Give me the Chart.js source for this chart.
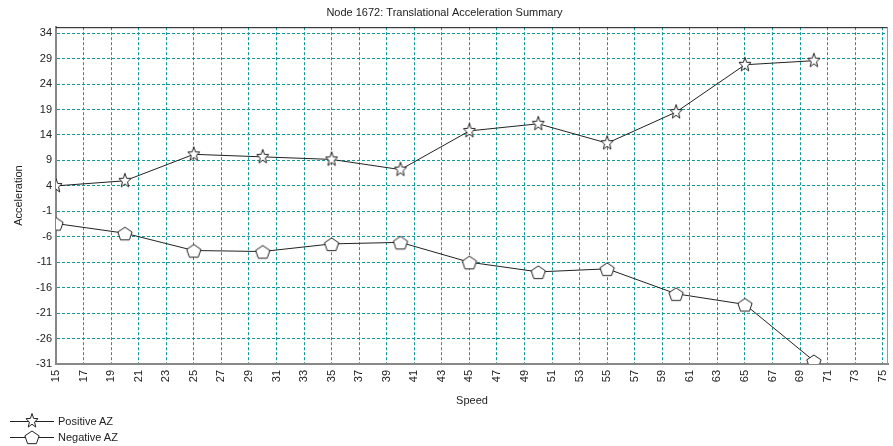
<!DOCTYPE html>
<html>
<head>
<meta charset="utf-8">
<script src="https://cdn.jsdelivr.net/npm/chart.js@4.4.1/dist/chart.umd.min.js"></script>
<style>
  html, body { margin: 0; padding: 0; background: #fff; }
  #wrap { position: relative; width: 893px; height: 446px; }
  #legend { position: absolute; left: 10px; top: 413px; font: 11px "Liberation Sans", Arial, sans-serif; color: #222; }
  .item { display: flex; align-items: center; height: 16px; }
  .item canvas { margin-right: 2px; }
</style>
</head>
<body>
<div id="wrap">
  <canvas id="chart" width="893" height="446"></canvas>
  <div id="legend"></div>
</div>
<script>
// datos
const speeds = [15, 20, 25, 30, 35, 40, 45, 50, 55, 60, 65, 70];
const positiveAZ = [4.0, 5.0, 10.2, 9.7, 9.2, 7.2, 14.8, 16.2, 12.4, 18.5, 27.8, 28.6];
const negativeAZ = [-3.4, -5.3, -8.7, -8.9, -7.4, -7.1, -11.0, -12.9, -12.3, -17.2, -19.3, -30.4];
const xTicks = [15, 17, 19, 21, 23, 25, 27, 29, 31, 33, 35, 37, 39, 41, 43, 45, 47, 49, 51, 53, 55, 57, 59, 61, 63, 65, 67, 69, 71, 73, 75];
const yTicks = [-31, -26, -21, -16, -11, -6, -1, 4, 9, 14, 19, 24, 29, 34];
const seriesNames = ['Positive AZ', 'Negative AZ'];

const FONT = '"Liberation Sans", Arial, sans-serif';
const TEXT = '#222';
const GRID = '#139999';

// marcadores huecos: estrella y pentagono
function drawShape(ctx, cx, cy, kind) {
    ctx.beginPath();
    if (kind === 'star') {
        for (let i = 0; i < 10; i++) {
            const r = i % 2 === 0 ? 7.5 : 3.2;
            const a = -Math.PI / 2 + i * Math.PI / 5;
            const px = cx + r * Math.cos(a) * 0.85, py = cy + r * Math.sin(a);
            i === 0 ? ctx.moveTo(px, py) : ctx.lineTo(px, py);
        }
    } else {
        for (let i = 0; i < 5; i++) {
            const a = -Math.PI / 2 + i * 2 * Math.PI / 5;
            const px = cx + 7.5 * Math.cos(a), py = cy + 1 + 7 * Math.sin(a);
            i === 0 ? ctx.moveTo(px, py) : ctx.lineTo(px, py);
        }
    }
    ctx.closePath();
    ctx.fillStyle = '#fff';
    ctx.fill();
    ctx.strokeStyle = '#222';
    ctx.lineWidth = 1;
    ctx.stroke();
}

function makeMarker(kind) {
    const c = document.createElement('canvas');
    c.width = 18; c.height = 18;
    drawShape(c.getContext('2d'), 9, 9, kind);
    return c;
}

const starImg = makeMarker('star');
const pentImg = makeMarker('pent');

// borde superior y derecho del area de trazado
const frame = {
    id: 'frame',
    afterDraw(chart) {
        const { ctx, chartArea: a } = chart;
        ctx.save();
        ctx.lineWidth = 1;
        ctx.strokeStyle = '#111';
        ctx.beginPath();
        ctx.moveTo(a.left, a.top + 0.5);
        ctx.lineTo(a.right, a.top + 0.5);
        ctx.stroke();
        ctx.strokeStyle = '#999';
        ctx.beginPath();
        ctx.moveTo(a.right - 0.5, a.top);
        ctx.lineTo(a.right - 0.5, a.bottom);
        ctx.stroke();
        ctx.restore();
    }
};

new Chart(document.getElementById('chart'), {
    type: 'line',
    data: {
        datasets: [
            {
                label: seriesNames[0],
                data: speeds.map((s, i) => ({ x: s, y: positiveAZ[i] })),
                borderColor: '#222',
                borderWidth: 1,
                pointStyle: starImg,
                tension: 0
            },
            {
                label: seriesNames[1],
                data: speeds.map((s, i) => ({ x: s, y: negativeAZ[i] })),
                borderColor: '#222',
                borderWidth: 1,
                pointStyle: pentImg,
                tension: 0
            }
        ]
    },
    options: {
        responsive: false,
        animation: false,
        layout: { padding: { left: 0, right: 4, top: 0, bottom: 34 } },
        plugins: {
            legend: { display: false },
            tooltip: { enabled: false },
            title: {
                display: true,
                text: 'Node 1672: Translational Acceleration Summary',
                color: TEXT,
                font: { family: FONT, size: 11, weight: 'normal' },
                padding: { top: 6, bottom: 8 }
            }
        },
        scales: {
            x: {
                type: 'linear',
                min: 15,
                max: 75.38,
                afterBuildTicks: s => { s.ticks = xTicks.map(v => ({ value: v })); },
                afterFit: s => { s.height = 48; s.paddingRight = 0; s.paddingLeft = 0; },
                grid: { color: GRID, drawTicks: false, lineWidth: 1 },
                border: { color: '#888', width: 2, dash: [3, 2] },
                ticks: {
                    color: TEXT,
                    font: { family: FONT, size: 11 },
                    minRotation: 90,
                    maxRotation: 90,
                    padding: 6,
                    autoSkip: false
                },
                title: {
                    display: true,
                    text: 'Speed',
                    color: TEXT,
                    font: { family: FONT, size: 11 },
                    padding: { top: 0, bottom: 4 }
                }
            },
            y: {
                min: -31,
                max: 35.18,
                afterBuildTicks: s => { s.ticks = yTicks.map(v => ({ value: v })); },
                afterFit: s => { s.width = 56; },
                grid: { color: GRID, drawTicks: false, lineWidth: 1 },
                border: { color: '#888', width: 2, dash: [3, 2] },
                ticks: {
                    color: TEXT,
                    font: { family: FONT, size: 11 },
                    padding: 4,
                    autoSkip: false
                },
                title: {
                    display: true,
                    text: 'Acceleration',
                    color: TEXT,
                    font: { family: FONT, size: 11 },
                    padding: { top: 12, bottom: 0 }
                }
            }
        }
    },
    plugins: [frame]
});

// leyenda en html, una fila por serie
const legend = document.getElementById('legend');
[starImg, pentImg].forEach((img, i) => {
    const row = document.createElement('div');
    row.className = 'item';
    const c = document.createElement('canvas');
    c.width = 46; c.height = 16;
    const ctx = c.getContext('2d');
    ctx.strokeStyle = '#222';
    ctx.lineWidth = 1;
    ctx.beginPath();
    ctx.moveTo(0, 8.5);
    ctx.lineTo(44, 8.5);
    ctx.stroke();
    drawShape(ctx, 22, 8, i === 0 ? 'star' : 'pent');
    row.appendChild(c);
    const span = document.createElement('span');
    span.textContent = seriesNames[i];
    row.appendChild(span);
    legend.appendChild(row);
});
</script>
</body>
</html>
